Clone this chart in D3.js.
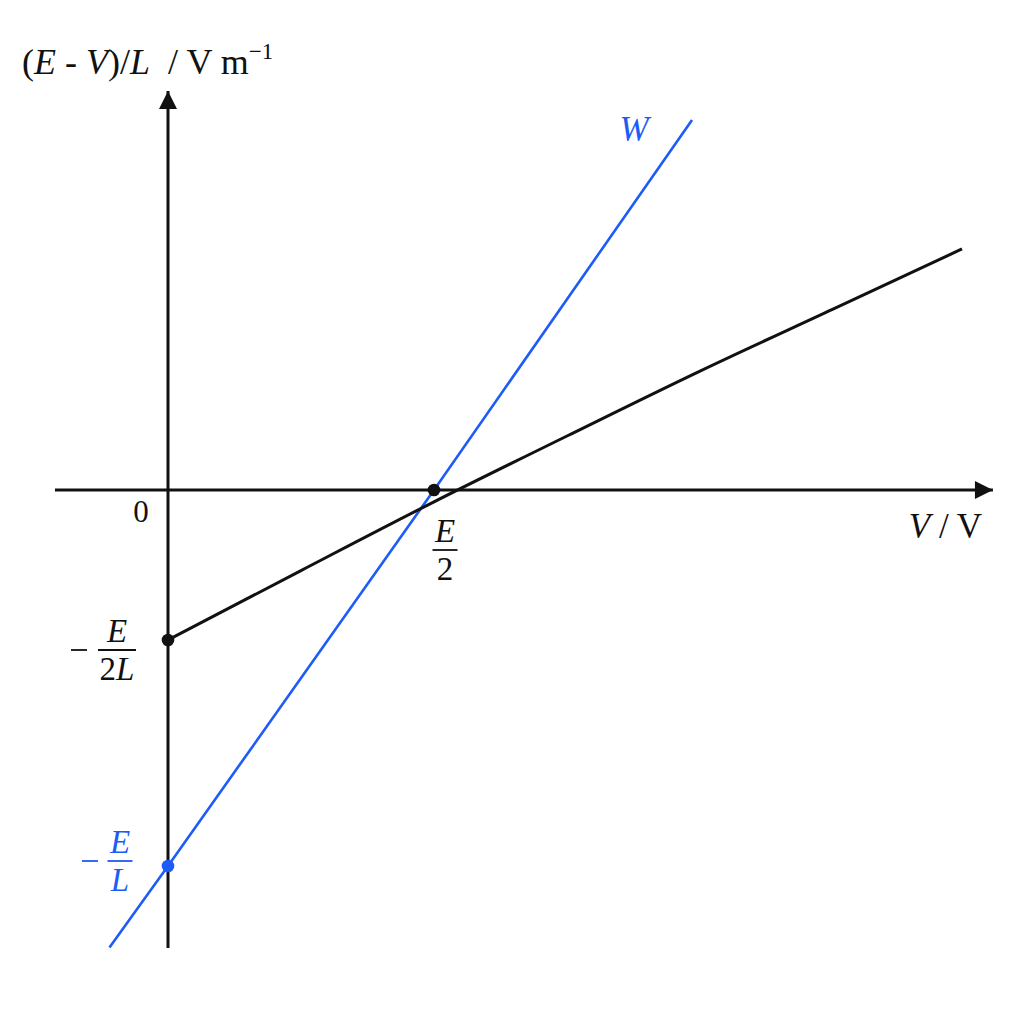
<!DOCTYPE html>
<html>
<head>
<meta charset="utf-8">
<script src="https://cdn.jsdelivr.net/npm/d3@7"></script>
<style>
  html, body { margin: 0; padding: 0; background: #fff; }
  svg { display: block; }
  text { font-family: "Liberation Serif", "DejaVu Serif", serif; fill: #111; }
</style>
</head>
<body>
<svg id="chart" width="1024" height="1024"></svg>
<script>
// ---- data (x in units of E/2, y in units of E/(2L)) ----
const xAxisExtent = [-0.425, 3.105];
const yAxisExtent = [-3.053, 2.667];
const blueX = [-0.22, 0, 1.0, 1.97];
const blueY = [-3.05, -2.507, 0, 2.467];
const blackX = [0, 0.5, 1.0, 1.5, 2.0, 2.5, 2.985];
const blackY = [-1, -0.537, -0.079, 0.36, 0.793, 1.206, 1.607];
const dotsBlack = [[0, -1], [1.0, 0]];
const dotsBlue = [[0, -2.507]];
const blue = "#1d5cf6";

const svg = d3.select("#chart");
svg.append("rect").attr("width", 1024).attr("height", 1024).attr("fill", "#fff");

const x = d3.scaleLinear().domain([0, 1]).range([168, 434]);
const y = d3.scaleLinear().domain([0, -1]).range([490, 640]);

// arrow markers
const defs = svg.append("defs");
defs.append("marker").attr("id", "arr").attr("viewBox", "0 0 10 10")
  .attr("refX", 10).attr("refY", 5).attr("markerWidth", 6.3).attr("markerHeight", 6)
  .attr("markerUnits", "strokeWidth").attr("orient", "auto")
  .append("path").attr("d", "M0,0 L10,5 L0,10 Z").attr("fill", "#111");

// axes
svg.append("line")
  .attr("x1", x(xAxisExtent[0])).attr("x2", x(xAxisExtent[1]) - 1)
  .attr("y1", y(0)).attr("y2", y(0))
  .attr("stroke", "#111").attr("stroke-width", 3).attr("marker-end", "url(#arr)");
svg.append("line")
  .attr("x1", x(0)).attr("x2", x(0))
  .attr("y1", y(yAxisExtent[0])).attr("y2", y(yAxisExtent[1]) + 1)
  .attr("stroke", "#111").attr("stroke-width", 3).attr("marker-end", "url(#arr)");

// lines
const lineGen = d3.line().x(d => x(d[0])).y(d => y(d[1]));
svg.append("path")
  .datum(blueX.map((v, i) => [v, blueY[i]]))
  .attr("d", lineGen).attr("fill", "none").attr("stroke", blue).attr("stroke-width", 2.6);
svg.append("path")
  .datum(blackX.map((v, i) => [v, blackY[i]]))
  .attr("d", lineGen.curve(d3.curveMonotoneX)).attr("fill", "none")
  .attr("stroke", "#111").attr("stroke-width", 3);

// dots
svg.selectAll(".db").data(dotsBlack).join("circle")
  .attr("cx", d => x(d[0])).attr("cy", d => y(d[1])).attr("r", 6.3).attr("fill", "#111");
svg.selectAll(".dbl").data(dotsBlue).join("circle")
  .attr("cx", d => x(d[0])).attr("cy", d => y(d[1])).attr("r", 6.3).attr("fill", blue);

// y-axis title
const yt = svg.append("text").attr("x", 22).attr("y", 74).attr("font-size", 36)
  .style("white-space", "pre");
yt.append("tspan").text("(");
yt.append("tspan").attr("font-style", "italic").text("E");
yt.append("tspan").text(" - ");
yt.append("tspan").attr("font-style", "italic").text("V");
yt.append("tspan").text(")/");
yt.append("tspan").attr("font-style", "italic").text("L");
yt.append("tspan").text("  / V m");
yt.append("tspan").attr("font-size", 23).attr("dy", -15).text("\u22121");

// x-axis title
const xt = svg.append("text").attr("x", 982).attr("y", 538).attr("font-size", 35)
  .attr("text-anchor", "end");
xt.append("tspan").attr("font-style", "italic").text("V");
xt.append("tspan").text(" / V");

// origin
svg.append("text").attr("x", 141).attr("y", 522).attr("font-size", 31).attr("text-anchor", "middle").text("0");

// W label
svg.append("text").attr("x", 634).attr("y", 141).attr("font-size", 35)
  .attr("font-style", "italic").attr("text-anchor", "middle").style("fill", blue).text("W");

// fractions
function fraction(cx, barY, num, den, color, minusX) {
  const g = svg.append("g");
  const t1 = g.append("text").attr("x", cx).attr("y", barY - 8).attr("font-size", 33)
    .attr("text-anchor", "middle").style("fill", color);
  num.forEach(p => t1.append("tspan").attr("font-style", p[1] ? "italic" : "normal").text(p[0]));
  const t2 = g.append("text").attr("x", cx).attr("y", barY + 30).attr("font-size", 33)
    .attr("text-anchor", "middle").style("fill", color);
  den.forEach(p => t2.append("tspan").attr("font-style", p[1] ? "italic" : "normal").text(p[0]));
  const bw = den.map(p => p[0]).join("").length > 1 ? 38 : 25;
  g.append("line").attr("x1", cx - bw / 2).attr("x2", cx + bw / 2)
    .attr("y1", barY).attr("y2", barY).attr("stroke", color).attr("stroke-width", 1.8);
  if (minusX != null) {
    g.append("line").attr("x1", minusX).attr("x2", minusX + 16)
      .attr("y1", barY).attr("y2", barY).attr("stroke", color).attr("stroke-width", 1.8);
  }
}
fraction(x(1.0) + 11, 550, [["E", true]], [["2", false]], "#111", null);
fraction(117, 650, [["E", true]], [["2", false], ["L", true]], "#111", 71);
fraction(120, 861, [["E", true]], [["L", true]], blue, 82);
</script>
</body>
</html>
